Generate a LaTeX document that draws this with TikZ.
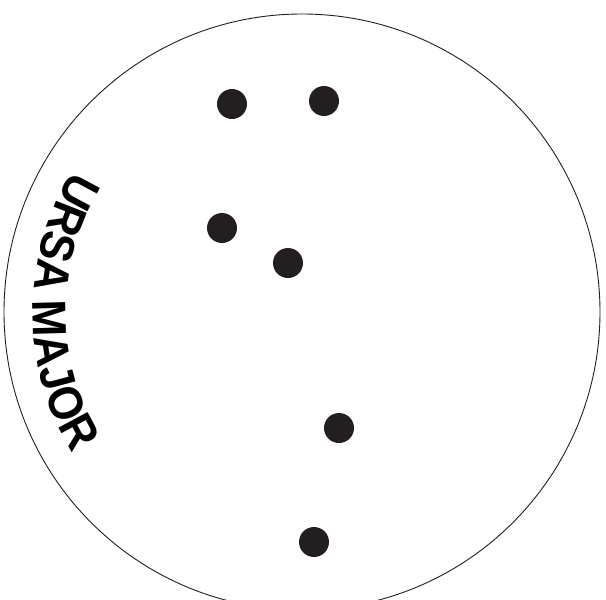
\documentclass[tikz,border=0pt]{standalone}
\usepackage{fontspec}
\newfontfamily\ursafam{Liberation Sans}[FakeStretch=0.92]
\usetikzlibrary{decorations.text}
\definecolor{ink}{RGB}{35,31,32}
\tikzset{
  star/.style={circle, fill=ink, draw=none, minimum size=30pt, inner sep=0pt},
  rim/.style={draw=ink, line width=0.9pt}
}
\newcommand{\ursafont}{\ursafam\bfseries\fontsize{48}{48}\selectfont}
\begin{document}
\begin{tikzpicture}[x=1pt,y=1pt]
\useasboundingbox (0,0) rectangle (606,-600);
\clip (0,0) rectangle (606,-600);
\fill[white] (0,0) rectangle (606,-600);
\coordinate (c) at (302,-312);
\draw[rim] (c) circle[radius=298pt];
\node[star] (d1) at (232,-104) {};
\node[star] (d2) at (324,-101) {};
\node[star] (d3) at (222,-228) {};
\node[star] (d4) at (288,-263) {};
\node[star] (d5) at (339,-428) {};
\node[star] (d6) at (314,-542) {};
\path[decorate, decoration={text along path, text={|\ursafont|URSA MAJOR}, text align=center}]
  (c) ++(130:269pt) arc[start angle=130, end angle=230, radius=269pt];
\end{tikzpicture}
\end{document}
